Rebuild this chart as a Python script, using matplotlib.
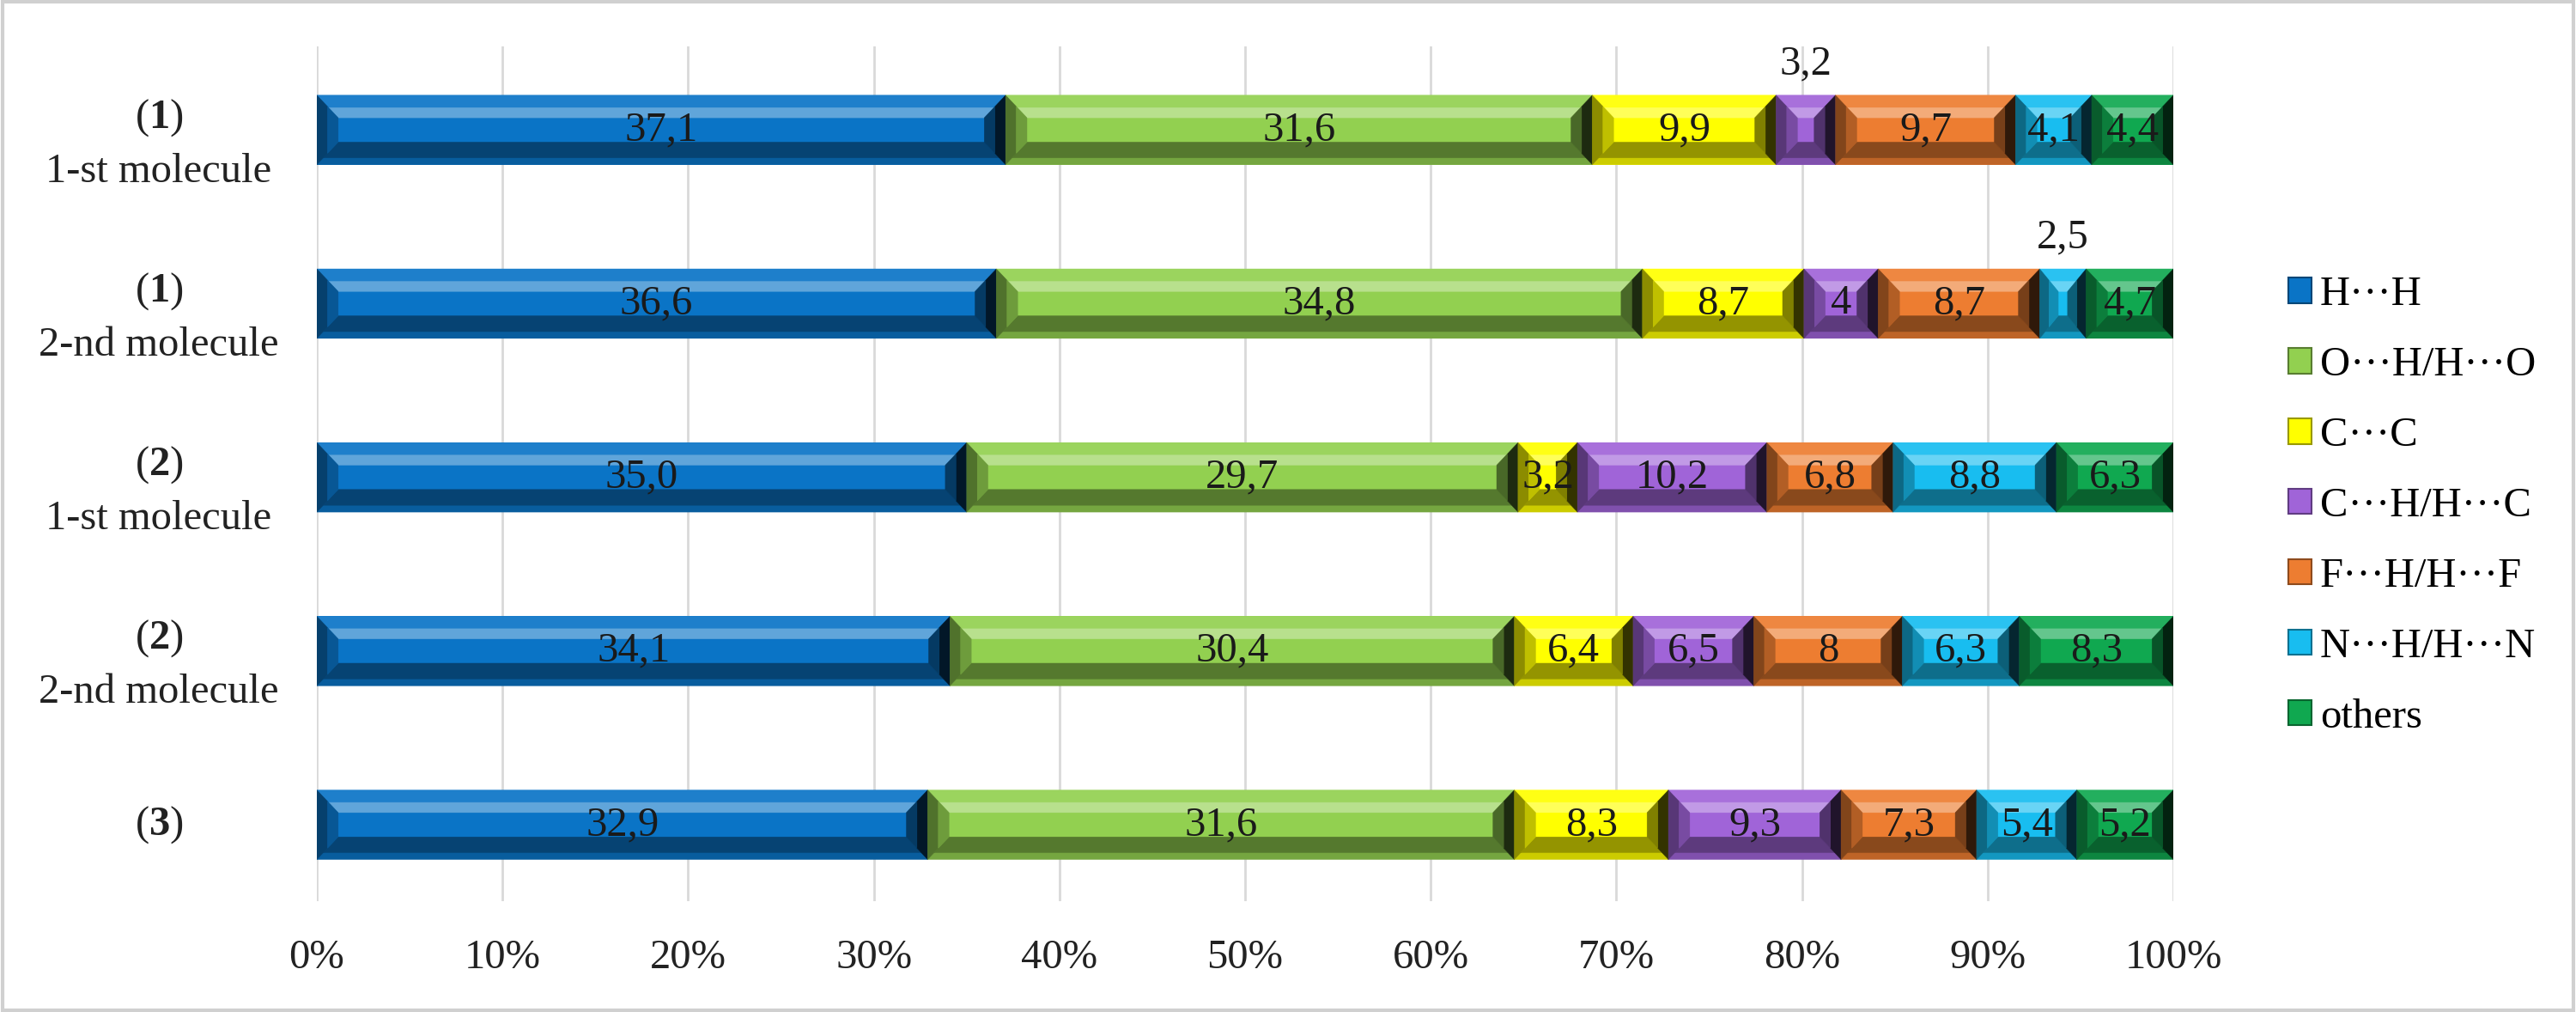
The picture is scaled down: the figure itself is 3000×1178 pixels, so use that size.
import matplotlib
matplotlib.use("Agg")
import matplotlib.pyplot as plt
from matplotlib.patches import Polygon, Patch, Rectangle
from matplotlib.colors import to_rgb
import numpy as np

plt.rcParams['font.family'] = ['Liberation Serif', 'DejaVu Serif']
plt.rcParams['mathtext.fontset'] = 'custom'
plt.rcParams['mathtext.rm'] = 'Liberation Serif'
plt.rcParams['mathtext.bf'] = 'Liberation Serif:bold'

# --- data ---
rows = ["(" + r"$\mathbf{1}$" + ")\n1-st molecule",
        "(" + r"$\mathbf{1}$" + ")\n2-nd molecule",
        "(" + r"$\mathbf{2}$" + ")\n1-st molecule",
        "(" + r"$\mathbf{2}$" + ")\n2-nd molecule",
        "(" + r"$\mathbf{3}$" + ")"]

contacts = ["H\u00b7\u00b7\u00b7H", "O\u00b7\u00b7\u00b7H/H\u00b7\u00b7\u00b7O", "C\u00b7\u00b7\u00b7C",
            "C\u00b7\u00b7\u00b7H/H\u00b7\u00b7\u00b7C", "F\u00b7\u00b7\u00b7H/H\u00b7\u00b7\u00b7F",
            "N\u00b7\u00b7\u00b7H/H\u00b7\u00b7\u00b7N", "others"]

# per contact type, values for the 5 rows
HH = [37.1, 36.6, 35.0, 34.1, 32.9]
OH = [31.6, 34.8, 29.7, 30.4, 31.6]
CC = [9.9, 8.7, 3.2, 6.4, 8.3]
CH = [3.2, 4.0, 10.2, 6.5, 9.3]
FH = [9.7, 8.7, 6.8, 8.0, 7.3]
NH = [4.1, 2.5, 8.8, 6.3, 5.4]
others = [4.4, 4.7, 6.3, 8.3, 5.2]

# label text as printed on the chart
HH_lbl = ["37,1", "36,6", "35,0", "34,1", "32,9"]
OH_lbl = ["31,6", "34,8", "29,7", "30,4", "31,6"]
CC_lbl = ["9,9", "8,7", "3,2", "6,4", "8,3"]
CH_lbl = ["3,2", "4", "10,2", "6,5", "9,3"]
FH_lbl = ["9,7", "8,7", "6,8", "8", "7,3"]
NH_lbl = ["4,1", "2,5", "8,8", "6,3", "5,4"]
others_lbl = ["4,4", "4,7", "6,3", "8,3", "5,2"]

# labels drawn above the bar instead of inside: (series index, row index)
outside = [(3, 0), (5, 1)]

series = [HH, OH, CC, CH, FH, NH, others]
series_lbl = [HH_lbl, OH_lbl, CC_lbl, CH_lbl, FH_lbl, NH_lbl, others_lbl]
colors = ["#0A74C6", "#92D050", "#FFFF00", "#A064D8", "#ED7D31", "#18BDF0", "#10A850"]


def mix(c, other, t):
    c = np.array(to_rgb(c))
    o = np.array(to_rgb(other))
    return tuple(c * (1 - t) + o * t)


def bevel(ax, x0, y0, w, h, bx, by, col):
    # draws a bevel frame over a bar, each side split in two strips
    def strip(side, t0, t1, fc):
        if side == 'top':
            pts = [(x0 + bx * t0, y0 + by * t0), (x0 + w - bx * t0, y0 + by * t0),
                   (x0 + w - bx * t1, y0 + by * t1), (x0 + bx * t1, y0 + by * t1)]
        elif side == 'bot':
            pts = [(x0 + bx * t0, y0 + h - by * t0), (x0 + w - bx * t0, y0 + h - by * t0),
                   (x0 + w - bx * t1, y0 + h - by * t1), (x0 + bx * t1, y0 + h - by * t1)]
        elif side == 'lft':
            pts = [(x0 + bx * t0, y0 + by * t0), (x0 + bx * t1, y0 + by * t1),
                   (x0 + bx * t1, y0 + h - by * t1), (x0 + bx * t0, y0 + h - by * t0)]
        else:
            pts = [(x0 + w - bx * t0, y0 + by * t0), (x0 + w - bx * t1, y0 + by * t1),
                   (x0 + w - bx * t1, y0 + h - by * t1), (x0 + w - bx * t0, y0 + h - by * t0)]
        ax.add_patch(Polygon(pts, closed=True, fc=fc, ec=fc, lw=0.3, zorder=3))

    strip('top', 0, 0.55, mix(col, 'white', 0.08))
    strip('top', 0.55, 1, mix(col, 'white', 0.35))
    strip('bot', 0, 0.3, mix(col, 'black', 0.2))
    strip('bot', 0.3, 1, mix(col, 'black', 0.42))
    strip('lft', 0, 0.5, mix(col, 'black', 0.45))
    strip('lft', 0.5, 1, mix(col, 'black', 0.25))
    strip('rgt', 0, 0.5, mix(col, 'black', 0.8))
    strip('rgt', 0.5, 1, mix(col, 'black', 0.5))


fig = plt.figure(figsize=(30, 11.78), dpi=100)
ax = fig.add_axes([0.123, 0.1095, 0.7207, 0.8445])

y = np.arange(len(rows))
bar_h = 0.40
left = np.zeros(len(rows))
fs = 35

for si, vals in enumerate(series):
    col = colors[si]
    bars = ax.barh(y, vals, left=left, height=bar_h, color=col, edgecolor='none',
                   label=contacts[si], zorder=2)
    for ri, p in enumerate(bars.patches):
        x0, y0, w, h = p.get_x(), p.get_y(), p.get_width(), p.get_height()
        bevel(ax, x0, y0, w, h, min(1.15, w * 0.4), 0.13, col)
        xc = x0 + w / 2
        if (si, ri) in outside:
            ax.annotate(series_lbl[si][ri], xy=(xc, y0), xytext=(0, 26),
                        textcoords='offset points', ha='center', va='center',
                        fontsize=fs, color='#1a1a1a', zorder=5)
        else:
            ax.text(xc, y0 + h / 2, series_lbl[si][ri], ha='center', va='center',
                    fontsize=fs, color='#1a1a1a', zorder=5)
    left = left + np.array(vals)

ax.set_xlim(0, 100)
ax.set_ylim(4.44, -0.48)
ax.set_xticks(np.arange(0, 101, 10))
ax.set_xticklabels([f"{v}%" for v in range(0, 101, 10)], fontsize=fs, color='#222222')
ax.set_yticks(y)
ax.set_yticklabels([])
ax.tick_params(axis='y', length=0)
ax.tick_params(axis='x', length=0, pad=32)
ax.grid(True, axis='x', color='#D9D9D9', linewidth=2, zorder=0)
ax.set_axisbelow(True)
for s in ax.spines.values():
    s.set_visible(False)

# category labels, left of the axes
for yi, txt in zip(y, rows):
    dy = 0.08 if "\n" in txt else 0.0
    ax.text(-0.0851, yi + dy, txt, transform=ax.get_yaxis_transform(), ha='center',
            va='center', multialignment='center', linespacing=1.5,
            fontsize=fs, color='#222222')

handles = [Patch(facecolor=c, edgecolor=mix(c, 'black', 0.4), linewidth=1.5) for c in colors]
ax.legend(handles, contacts, loc='center left', bbox_to_anchor=(0.882, 0.5),
          bbox_transform=fig.transFigure, frameon=False, fontsize=fs,
          handlelength=0.55, handleheight=0.55, handletextpad=0.2, labelspacing=0.78,
          borderaxespad=0)

fig.patches.append(Rectangle((0.001, 0.002), 0.998, 0.996, transform=fig.transFigure,
                             fill=False, edgecolor='#D0D0D0', linewidth=3))

fig.savefig("out.png", dpi=100, facecolor='white')
